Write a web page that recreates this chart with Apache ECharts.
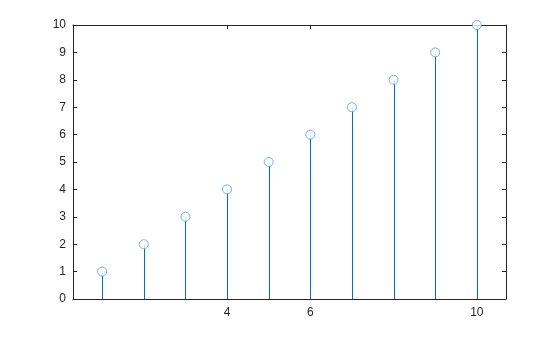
<!DOCTYPE html>
<html><head><meta charset="utf-8">
<script src="https://cdn.jsdelivr.net/npm/echarts@6/dist/echarts.min.js"></script>
<style>html,body{margin:0;padding:0;background:#fff}#c{width:560px;height:337px}</style>
</head><body><div id="c"></div>
<script>
const xValues = [1,2,3,4,5,6,7,8,9,10];
const yValues = [1,2,3,4,5,6,7,8,9,10];
const xTicks = [4,6,10];
const yTicks = [0,1,2,3,4,5,6,7,8,9,10];

const pts = xValues.map((x,i)=>[x,yValues[i]]);
const font = {fontFamily:'Liberation Sans, Arial, sans-serif', fontSize:12, color:'#262626'};
const lineStyle = {color:'#262626', width:1};
function xAxis(pos, labels){
  return {type:'value', position:pos, min:0.3, max:10.7,
    axisLine:{show:true, onZero:false, lineStyle},
    axisTick:{show:true, inside:true, length:4, customValues:xTicks, lineStyle},
    axisLabel:{show:labels, customValues:xTicks, margin:8, ...font},
    splitLine:{show:false}};
}
function yAxis(pos, labels){
  return {type:'value', position:pos, min:0, max:10, interval:1,
    axisLine:{show:true, lineStyle},
    axisTick:{show:true, inside:true, length:4, lineStyle},
    axisLabel:{show:labels, margin:7, ...font},
    splitLine:{show:false}};
}
const chart = echarts.init(document.getElementById('c'), null, {renderer:'canvas'});
chart.setOption({
  animation:false,
  grid:{left:73, top:25, width:433, height:274},
  xAxis:[xAxis('bottom',true), xAxis('top',false)],
  yAxis:[yAxis('left',true), yAxis('right',false)],
  series:[
    {type:'custom', data:pts, silent:true, z:3,
     renderItem:function(params, api){
       const top = api.coord([api.value(0), api.value(1)]);
       const base = api.coord([api.value(0), 0]);
       const x = Math.round(top[0]) + 0.5;
       return {type:'line', shape:{x1:x, y1:base[1], x2:x, y2:top[1]},
               style:{stroke:'#0072BD', lineWidth:1}};
     }},
    {type:'scatter', data:pts, symbol:'circle', symbolSize:9, clip:false,
     itemStyle:{color:'#ffffff', borderColor:'#5a9fd6', borderWidth:1}, z:5}
  ]
});
</script></body></html>
